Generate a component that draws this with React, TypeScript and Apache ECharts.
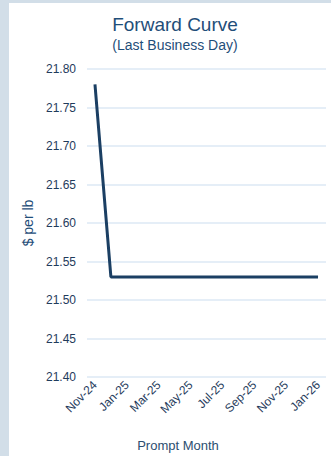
import React, { useEffect, useRef } from "react";
import * as echarts from "echarts";

const months = ["Nov-24","Dec-24","Jan-25","Feb-25","Mar-25","Apr-25","May-25","Jun-25","Jul-25","Aug-25","Sep-25","Oct-25","Nov-25","Dec-25","Jan-26"];
const prices = [21.78,21.53,21.53,21.53,21.53,21.53,21.53,21.53,21.53,21.53,21.53,21.53,21.53,21.53,21.53];
const yMin = 21.4;
const yMax = 21.8;
const yStep = 0.05;

const FONT = "'Liberation Sans', Arial, sans-serif";
const NAVY = "#1f3b5c";

export default function App() {
  const ref = useRef<HTMLDivElement>(null);
  useEffect(() => {
    if (!ref.current) return;
    const chart = echarts.init(ref.current, undefined, { renderer: "svg" });
    chart.setOption({
      animation: false,
      backgroundColor: "#ffffff",
      textStyle: { fontFamily: FONT },
      graphic: [
        { type: "rect", shape: { x: 0, y: 0, width: 331, height: 3 }, style: { fill: "#d2dee8" }, z: 100 },
        { type: "rect", shape: { x: 0, y: 0, width: 9, height: 456 }, style: { fill: "#d2dee8" }, z: 100 },
        { type: "text", x: 175, y: 24, style: { text: "Forward Curve", fontSize: 19, fontFamily: FONT, fill: "#1f4e79", textAlign: "center", textVerticalAlign: "middle" } },
        { type: "text", x: 175, y: 45, style: { text: "(Last Business Day)", fontSize: 14, fontFamily: FONT, fill: "#1f4e79", textAlign: "center", textVerticalAlign: "middle" } },
        { type: "text", x: 178, y: 445, style: { text: "Prompt Month", fontSize: 13, fontFamily: FONT, fill: "#2c4e70", textAlign: "center", textVerticalAlign: "middle" } },
      ],
      grid: { left: 87, right: 5, top: 69, bottom: 79, containLabel: false },
      xAxis: {
        type: "category",
        data: months,
        boundaryGap: true,
        axisLine: { show: false },
        axisTick: { show: false },
        axisLabel: {
          interval: 1,
          rotate: 45,
          fontSize: 12,
          color: NAVY,
          fontFamily: FONT,
          margin: 6,
        },
        splitLine: { show: false },
      },
      yAxis: {
        type: "value",
        min: yMin,
        max: yMax,
        interval: yStep,
        name: "$ per lb",
        nameLocation: "middle",
        nameGap: 52,
        nameTextStyle: { fontSize: 14, color: "#1f4e79", fontFamily: FONT },
        axisLine: { show: false },
        axisTick: { show: false },
        axisLabel: {
          formatter: (v: number) => v.toFixed(2),
          fontSize: 12,
          color: NAVY,
          fontFamily: FONT,
          margin: 11,
        },
        splitLine: { lineStyle: { color: "#dde9f5", width: 1.5 } },
      },
      series: [
        {
          type: "line",
          data: prices,
          symbol: "none",
          lineStyle: { color: "#1b3f63", width: 3 },
        },
      ],
    });
    return () => chart.dispose();
  }, []);
  return (
    <div
      ref={ref}
      style={{ position: "fixed", left: 0, top: 0, width: 331, height: 456 }}
    />
  );
}
